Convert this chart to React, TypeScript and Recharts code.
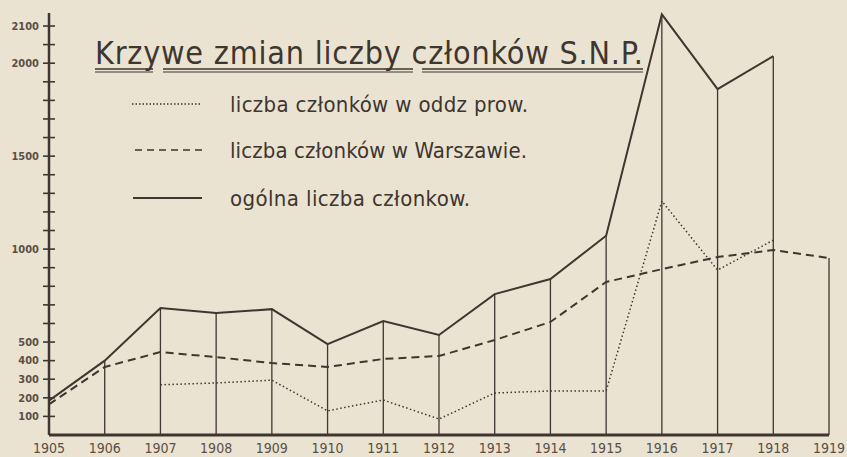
import { ComposedChart, Line, XAxis, YAxis, ReferenceLine, Legend } from 'recharts'

const years = ['1905', '1906', '1907', '1908', '1909', '1910', '1911', '1912', '1913', '1914', '1915', '1916', '1917', '1918', '1919']
const provincial = [null, null, 270, 280, 295, 130, 188, 86, 226, 237, 237, 1258, 887, 1048, null]
const warsaw = [165, 366, 446, 419, 387, 366, 409, 425, 511, 608, 823, 892, 957, 995, 952]
const total = [185, 400, 683, 656, 677, 489, 613, 538, 758, 839, 1072, 2263, 1860, 2038, null]

const yTicks = [100, 200, 300, 400, 500, 600, 700, 800, 900, 1000, 1100, 1200, 1300, 1400, 1500, 1600, 1700, 1800, 1900, 2000, 2100, 2200]
// labelled ticks; the top one is lettered "2100" on the original
const yLabels: Record<number, string> = { 100: '100', 200: '200', 300: '300', 400: '400', 500: '500', 1000: '1000', 1500: '1500', 2000: '2000', 2200: '2100' }

const title = 'Krzywe zmian liczby członków S.N.P.'
const legendLabels = ['liczba członków w oddz prow.', 'liczba członków w Warszawie.', 'ogólna liczba członkow.']

const ink = '#3e362f'
const paper = '#ebe3d2'
const font = '"DejaVu Sans Condensed", "Liberation Sans Narrow", sans-serif'

const data = years.map((year, i) => ({
  year,
  provincial: provincial[i],
  warsaw: warsaw[i],
  total: total[i],
}))

const YTick = (props: any) => {
  const { x, y, payload } = props
  const label = yLabels[payload.value]
  return (
    <g>
      <line x1={x - 6} x2={x + 6} y1={y} y2={y} stroke={ink} strokeWidth={1.6} />
      {label && (
        <text x={x - 10} y={y} dy="0.35em" textAnchor="end" fontSize={11} fontWeight="bold" fill="#5a4f45" fontFamily={font}>
          {label}
        </text>
      )}
    </g>
  )
}

const XTick = (props: any) => {
  const { x, y, payload } = props
  return (
    <text x={x} y={y} dy="0.75em" textAnchor="middle" fontSize={14} fill="#5a4f45" fontFamily={font}>
      {payload.value}
    </text>
  )
}

const LegendBox = () => (
  <svg width={700} height={220} style={{ display: 'block' }}>
    <text x={95} y={64} fontSize={32} fill={ink} fontFamily={font} textLength={548} lengthAdjust="spacing">
      {title}
    </text>
    {[[95, 153], [163, 413], [422, 643]].map(([a, b], i) => (
      <g key={i}>
        <line x1={a} x2={b} y1={69} y2={69} stroke={ink} strokeWidth={1.3} />
        <line x1={a} x2={b} y1={72} y2={72} stroke={ink} strokeWidth={1} />
      </g>
    ))}
    <line x1={132} x2={200} y1={104} y2={104} stroke={ink} strokeWidth={1.4} strokeDasharray="1.5 2" />
    <line x1={135} x2={202} y1={150} y2={150} stroke={ink} strokeWidth={1.6} strokeDasharray="7 5" />
    <line x1={133} x2={202} y1={198} y2={198} stroke={ink} strokeWidth={1.8} />
    <text x={230} y={112} fontSize={22} fill={ink} fontFamily={font} textLength={298} lengthAdjust="spacing">{legendLabels[0]}</text>
    <text x={230} y={158} fontSize={22} fill={ink} fontFamily={font} textLength={297} lengthAdjust="spacing">{legendLabels[1]}</text>
    <text x={230} y={206} fontSize={22} fill={ink} fontFamily={font} textLength={240} lengthAdjust="spacing">{legendLabels[2]}</text>
  </svg>
)

export default function App() {
  return (
    <div style={{ position: 'fixed', left: 0, top: 0, width: 847, height: 457, background: paper }}>
      <ComposedChart width={847} height={457} data={data} margin={{ top: 13, right: 18, bottom: 2, left: 0 }}>
        <XAxis
          dataKey="year"
          scale="point"
          padding={{ left: 0, right: 0 }}
          height={20}
          axisLine={{ stroke: ink, strokeWidth: 3 }}
          tickLine={false}
          tickSize={0}
          tickMargin={7}
          tick={<XTick />}
          interval={0}
        />
        <YAxis
          width={49}
          domain={[0, 2270]}
          ticks={yTicks}
          interval={0}
          axisLine={{ stroke: ink, strokeWidth: 2.5 }}
          tickLine={false}
          tickSize={0}
          tickMargin={0}
          tick={<YTick />}
        />
        {years.slice(1).map((year, i) => {
          const top = Math.max(...[provincial[i + 1], warsaw[i + 1], total[i + 1]].map(v => v ?? 0))
          return (
            <ReferenceLine
              key={year}
              segment={[{ x: year, y: 0 }, { x: year, y: top }]}
              stroke={ink}
              strokeWidth={1.3}
            />
          )
        })}
        <Line dataKey="provincial" stroke={ink} strokeWidth={1.5} strokeDasharray="1.5 2.5" dot={false} isAnimationActive={false} />
        <Line dataKey="warsaw" stroke={ink} strokeWidth={2} strokeDasharray="8 5" dot={false} isAnimationActive={false} />
        <Line dataKey="total" stroke={ink} strokeWidth={2} dot={false} isAnimationActive={false} />
        <Legend
          layout="horizontal"
          verticalAlign="middle"
          content={<LegendBox />}
          wrapperStyle={{ top: 0, left: 0, width: 700, height: 220 }}
        />
      </ComposedChart>
    </div>
  )
}
